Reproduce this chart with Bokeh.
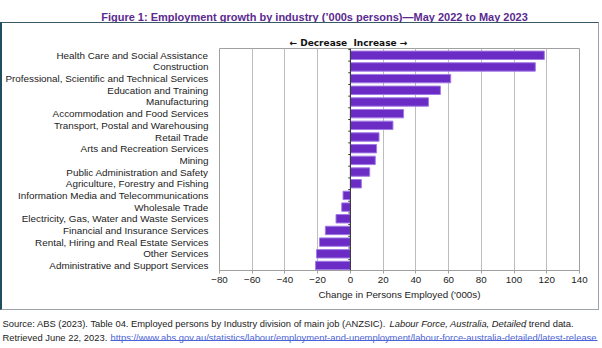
from bokeh.plotting import figure
from bokeh.layouts import column
from bokeh.models import (Range1d, FixedTicker, Span, Title, ColumnDataSource)
from bokeh.core.properties import value
from bokeh.embed import file_html
from bokeh.resources import INLINE

industries = [
    "Health Care and Social Assistance",
    "Construction",
    "Professional, Scientific and Technical Services",
    "Education and Training",
    "Manufacturing",
    "Accommodation and Food Services",
    "Transport, Postal and Warehousing",
    "Retail Trade",
    "Arts and Recreation Services",
    "Mining",
    "Public Administration and Safety",
    "Agriculture, Forestry and Fishing",
    "Information Media and Telecommunications",
    "Wholesale Trade",
    "Electricity, Gas, Water and Waste Services",
    "Financial and Insurance Services",
    "Rental, Hiring and Real Estate Services",
    "Other Services",
    "Administrative and Support Services",
]
change = [118.5, 113.0, 61.3, 55.0, 47.7, 32.5, 26.0, 17.5, 16.0, 15.2, 11.8, 6.7,
          -4.5, -5.3, -8.8, -15.3, -18.9, -20.7, -21.3]
x_ticks = [-80, -60, -40, -20, 0, 20, 40, 60, 80, 100, 120, 140]

title_text = "Figure 1: Employment growth by industry (\u2019000s persons)\u2014May 2022 to May 2023"
direction_text = "\u2190 Decrease\u00a0\u00a0Increase \u2192"
src1a = "Source: ABS (2023). Table 04. Employed persons by Industry division of main job (ANZSIC)."
src1b = "Labour Force, Australia, Detailed"
src1c = ", trend data."
src2a = "Retrieved June 22, 2023."
src2b = "https://www.abs.gov.au/statistics/labour/employment-and-unemployment/labour-force-australia-detailed/latest-release"

FONT = "Liberation Sans"
W = 602
HEAD_H, MAIN_H, FOOT_H = 22, 290, 36

# ---------- header (title) ----------
head = figure(width=W, height=HEAD_H, output_backend="svg", toolbar_location=None,
              x_range=Range1d(0, W), y_range=Range1d(HEAD_H, 0),
              x_axis_location=None, y_axis_location=None, min_border=0, frame_align=False)
head.grid.visible = False
head.outline_line_color = None
head.text(x=[314], y=[16], text=[title_text], text_font=value(FONT),
          text_font_size="11px", text_font_style="bold", text_color="#5b2a90",
          text_align="center", text_baseline="alphabetic")

# ---------- main chart (inside the bordered box) ----------
n = len(industries)
ypos = [n - 1 - i for i in range(n)]
MW, MH = W - 3, MAIN_H - 2
p = figure(width=MW, height=MH, output_backend="svg", toolbar_location=None,
           y_range=Range1d(-0.43, n - 1 + 0.58), x_range=Range1d(-80, 140),
           min_border_left=216, min_border_right=22, min_border_top=25, min_border_bottom=41,
           frame_align=False)
p.styles = {"border-top": "1px solid #3b5866", "border-right": "1px solid #9aa4aa",
            "border-bottom": "1px solid #9aa4aa", "border-left": "2px solid #1f4e5f"}

src = ColumnDataSource(dict(y=ypos, val=change))
p.hbar(y="y", right="val", left=0, height=0.72, source=src,
       fill_color="#6a2cc4", line_color="#a27ae6", line_width=1)

p.add_layout(Span(location=0, dimension="height", line_color="#333333", line_width=1))
bounds = [k - 0.5 for k in range(n + 1)]
p.segment(x0=[-1.3] * len(bounds), x1=[0] * len(bounds), y0=bounds, y1=bounds,
          line_color="#333333", line_width=1)

p.add_layout(Title(text=direction_text, align="left", offset=70, standoff=1,
                   text_font="DejaVu Sans", text_font_size="9px", text_font_style="bold",
                   text_color="#111111"), "above")

p.xaxis.ticker = FixedTicker(ticks=x_ticks)
p.xaxis.axis_label = "Change in Persons Employed ('000s)"
p.xaxis.axis_label_text_font = FONT
p.xaxis.axis_label_text_font_style = "normal"
p.xaxis.axis_label_text_font_size = "9.8px"
p.xaxis.axis_label_text_color = "#222222"
p.xaxis.axis_label_standoff = 3
p.xaxis.major_label_text_font = FONT
p.xaxis.major_label_text_font_size = "9.8px"
p.xaxis.major_label_text_color = "#222222"
p.xaxis.major_label_standoff = 3
p.xaxis.axis_line_color = "#a0a0a0"
p.xaxis.major_tick_line_color = "#a0a0a0"
p.xaxis.major_tick_in = 0
p.xaxis.major_tick_out = 3
p.xaxis.minor_tick_line_color = None

p.yaxis.ticker = FixedTicker(ticks=ypos)
p.yaxis.major_label_overrides = {y: name for y, name in zip(ypos, industries)}
p.yaxis.axis_line_color = None
p.yaxis.major_tick_line_color = None
p.yaxis.minor_tick_line_color = None
p.yaxis.major_label_text_font = FONT
p.yaxis.major_label_text_font_size = "9.9px"
p.yaxis.major_label_text_color = "#222222"
p.yaxis.major_label_standoff = 5

p.xgrid.grid_line_color = "#bdbdbd"
p.ygrid.grid_line_color = None
p.outline_line_color = "#a0a0a0"

# ---------- footer (source) ----------
foot = figure(width=W, height=FOOT_H, output_backend="svg", toolbar_location=None,
              x_range=Range1d(0, W), y_range=Range1d(FOOT_H, 0),
              x_axis_location=None, y_axis_location=None, min_border=0, frame_align=False)
foot.grid.visible = False
foot.outline_line_color = None
common = dict(text_font=value(FONT), text_font_size="9.4px", text_baseline="alphabetic",
              text_align="left")
foot.text(x=[2], y=[13], text=[src1a], text_color="#222222", **common)
foot.text(x=[389], y=[13], text=[src1b], text_color="#222222", text_font_style="italic", **common)
foot.text(x=[523], y=[13], text=[src1c], text_color="#222222", **common)
foot.text(x=[2], y=[26.5], text=[src2a], text_color="#222222", **common)
foot.text(x=[110], y=[26.5], text=[src2b], text_color="#4a63d8", **common)
foot.segment(x0=[110], x1=[597], y0=[30], y1=[30], line_color="#4a63d8", line_width=1)

layout = column(head, p, foot, spacing=0)
open("out.html", "w").write(file_html(layout, INLINE))
